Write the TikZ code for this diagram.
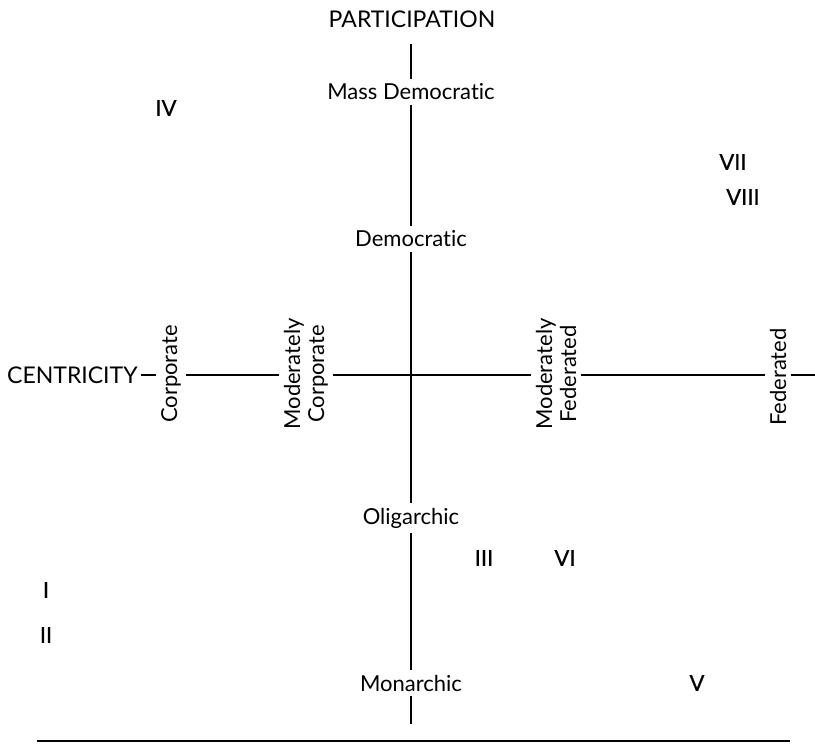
\documentclass[tikz,border=0pt]{standalone}
\usepackage{fontspec}
\setmainfont{Lato}[Ligatures={NoCommon,NoRare}]
\newfontfamily\numfont{Lato}[FakeBold=0.6,Ligatures={NoCommon,NoRare}]
\begin{document}
\begin{tikzpicture}[x=1pt,y=-1pt,
  lbl/.style={font=\fontsize{22}{25}\selectfont, fill=white, inner xsep=3pt, inner ysep=5pt},
  caps/.style={lbl, font=\fontsize{23}{26}\selectfont},
  vlbl/.style={font=\fontsize{22}{24}\selectfont, rotate=90, align=center, inner xsep=0pt, inner ysep=5pt},
  num/.style={font=\numfont\fontsize{22}{25}\selectfont},
  axis/.style={line width=1.3pt}]
\useasboundingbox (0,0) rectangle (815,756);
% vertical axis labels
\node[caps] (part) at (412,19) {PARTICIPATION};
\node[lbl] (mass) at (411,92) {Mass Democratic};
\node[lbl] (dem) at (411,239) {Democratic};
\node[lbl] (olig) at (411,518) {Oligarchic};
\node[lbl] (mon) at (411,683) {Monarchic};
\coordinate (vtop) at (411,44);
\coordinate (vbot) at (411,724);
% horizontal axis labels
\node[caps, anchor=west, inner xsep=0pt] (cent) at (7,375) {CENTRICITY};
\node[vlbl] (corp) at (171,374) {Corporate};
\node[vlbl] (mcorp) at (306,374) {Moderately\\Corporate};
\node[vlbl] (mfed) at (556,374) {Moderately\\Federated};
\node[vlbl] (fed) at (778,377) {Federated};
\coordinate (hstart) at (141,375);
\coordinate (hend) at (815,375);
% axes
\draw[axis] (vtop) -- (mass);
\draw[axis] (mass) -- (dem);
\draw[axis] (dem) -- (olig);
\draw[axis] (olig) -- (mon);
\draw[axis] (mon) -- (vbot);
\draw[axis] (hstart) -- (corp.north |- hstart);
\draw[axis] (corp.south |- hstart) -- (mcorp.north |- hstart);
\draw[axis] (mcorp.south |- hstart) -- (mfed.north |- hstart);
\draw[axis] (mfed.south |- hstart) -- (fed.north |- hstart);
\draw[axis] (fed.south |- hstart) -- (hend);
% roman numerals
\node[num] (n4) at (166,108) {IV};
\node[num] (n7) at (733,162) {VII};
\node[num] (n8) at (743,197) {VIII};
\node[num] (n1) at (46,590) {I};
\node[num] (n2) at (46,635) {II};
\node[num] (n3) at (484,558) {III};
\node[num] (n6) at (565,558) {VI};
\node[num] (n5) at (697,683) {V};
% bottom rule
\coordinate (bl) at (37,741);
\coordinate (br) at (790,741);
\draw[line width=2.2pt] (bl) -- (br);
\end{tikzpicture}
\end{document}
